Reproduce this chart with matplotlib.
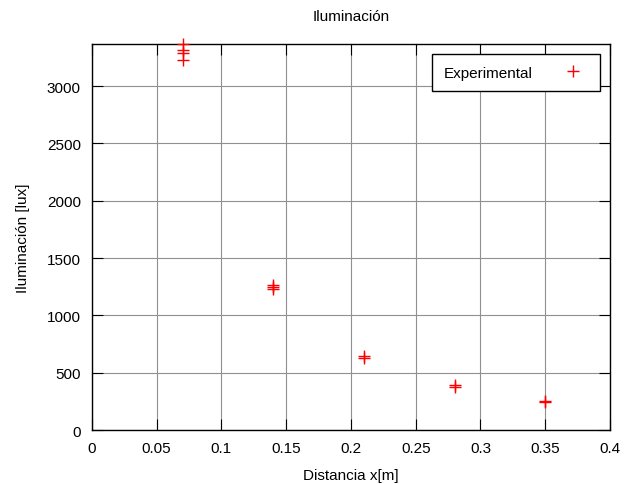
import matplotlib
matplotlib.use('Agg')
import matplotlib.pyplot as plt

distancia = [0.07, 0.07, 0.07, 0.07,
             0.14, 0.14, 0.14,
             0.21, 0.21,
             0.28, 0.28,
             0.35, 0.35]
iluminacion = [3366, 3314, 3290, 3227,
               1262, 1247, 1235,
               650, 632,
               390, 380,
               250, 245]

xticks = [0, 0.05, 0.1, 0.15, 0.2, 0.25, 0.3, 0.35, 0.4]
xticklabels = ['0', '0.05', '0.1', '0.15', '0.2', '0.25', '0.3', '0.35', '0.4']
yticks = [0, 500, 1000, 1500, 2000, 2500, 3000]

plt.rcParams['font.family'] = ['Liberation Sans', 'DejaVu Sans']

fig = plt.figure(figsize=(6.25, 4.85), dpi=100)
ax = fig.add_axes([0.147, 0.111, 0.829, 0.796])

ax.plot(distancia, iluminacion, linestyle='none', marker='+', color='red',
        markersize=8, markeredgewidth=1.0, label='Experimental', clip_on=False, zorder=3)

ax.set_xlim(0, 0.4)
ax.set_ylim(0, 3366)
ax.set_xticks(xticks)
ax.set_xticklabels(xticklabels)
ax.set_yticks(yticks)
ax.grid(True, color='#909090', linewidth=0.8)
ax.set_axisbelow(True)
ax.tick_params(direction='in', top=True, right=True, labelsize=11, length=8, pad=8)
for s in ax.spines.values():
    s.set_linewidth(1.0)
    s.set_color('black')

ax.set_title('Iluminación', fontsize=11, pad=17)
ax.set_xlabel('Distancia x[m]', fontsize=11, labelpad=9)
ax.set_ylabel('Iluminación [lux]', fontsize=11, labelpad=12)

leg = ax.legend(loc='upper right', bbox_to_anchor=(0.981, 0.974), fontsize=11,
                fancybox=False, framealpha=1, edgecolor='black', markerfirst=False,
                borderpad=0.75, handlelength=2.0, handletextpad=1.7, borderaxespad=0)
leg.get_frame().set_linewidth(1.0)

fig.savefig('out.png', dpi=100)
